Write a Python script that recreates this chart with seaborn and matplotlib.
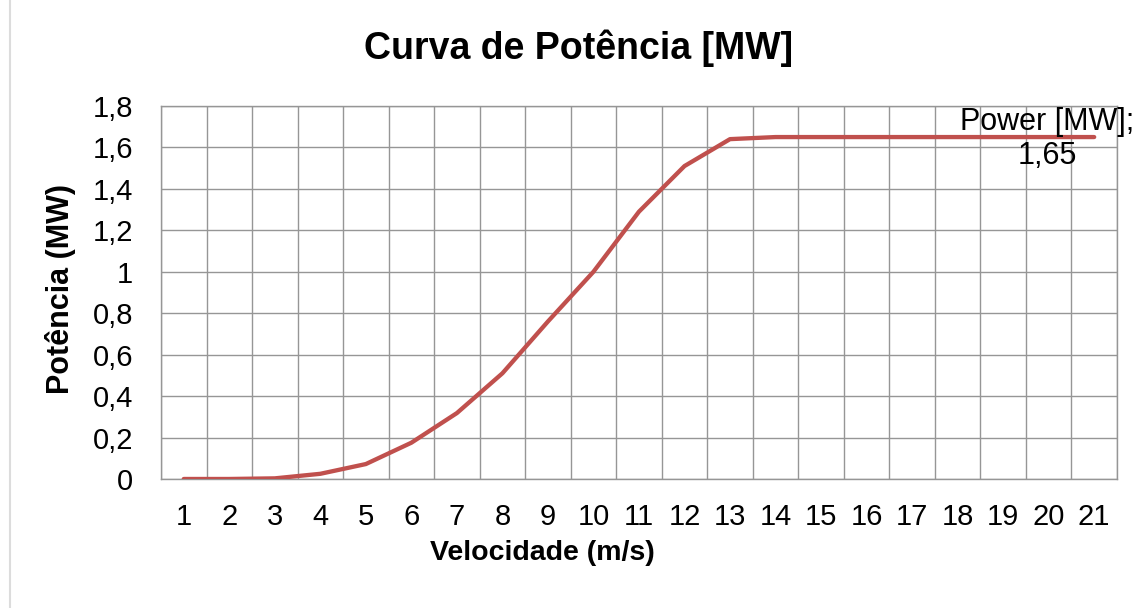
import matplotlib
matplotlib.use('Agg')
import matplotlib.pyplot as plt
import seaborn as sns
import numpy as np
import pandas as pd
from matplotlib.lines import Line2D

sns.set_style('white')
plt.rcParams['font.family'] = ['Liberation Sans', 'DejaVu Sans']
plt.rcParams.update({'text.color': 'black', 'xtick.color': 'black',
                     'ytick.color': 'black'})

# wind speed (m/s) and power curve (MW)
speed = list(range(1, 22))
power = [0, 0, 0.003, 0.025, 0.072, 0.175, 0.318, 0.51, 0.76, 1.0, 1.29,
         1.51, 1.64, 1.65, 1.65, 1.65, 1.65, 1.65, 1.65, 1.65, 1.65]
y_ticks = [0, 0.2, 0.4, 0.6, 0.8, 1.0, 1.2, 1.4, 1.6, 1.8]
y_labels = ['0', '0,2', '0,4', '0,6', '0,8', '1', '1,2', '1,4', '1,6', '1,8']

df = pd.DataFrame({'speed': speed, 'power': power})

fig = plt.figure(figsize=(11.45, 6.08), dpi=100)
ax = fig.add_axes([0.1406, 0.2122, 0.8349, 0.6135])

grid_col = '#969696'
sns.lineplot(data=df, x='speed', y='power', ax=ax, color='#C0504D',
             linewidth=3.1, zorder=3)

ax.set_xlim(0.5, 21.5)
ax.set_ylim(0, 1.8)
ax.set_xticks(speed)
ax.set_xticklabels([str(s) for s in speed], fontsize=21)
ax.set_xticks(np.arange(0.5, 22, 1), minor=True)
ax.set_yticks(y_ticks)
ax.set_yticklabels(y_labels, fontsize=21)
ax.tick_params(axis='x', which='both', length=0, pad=17)
ax.tick_params(axis='y', which='both', length=0, pad=20)
ax.grid(which='minor', axis='x', color=grid_col, linewidth=1.0)
ax.grid(which='major', axis='y', color=grid_col, linewidth=1.0)
ax.grid(which='major', axis='x', visible=False)
for s in ax.spines.values():
    s.set_color(grid_col)
    s.set_linewidth(1.0)
ax.set_xlabel('')
ax.set_ylabel('')

# data label on last point
ax.annotate('Power [MW];\n1,65', xy=(speed[-1], power[-1]),
            xytext=(-47, -2), textcoords='offset pixels',
            ha='center', va='center', multialignment='center', fontsize=22)

fig.text(0.505, 1 - 59 / 608, 'Curva de Potência [MW]', ha='center',
         va='baseline', fontsize=27, fontweight='bold')
fig.text(542 / 1145, 1 - 560 / 608, 'Velocidade (m/s)', ha='center',
         va='baseline', fontsize=20.5, fontweight='bold')
fig.text(61 / 1145, 1 - 289 / 608, 'Potência (MW)', ha='center',
         va='center', rotation=90, fontsize=22, fontweight='bold')

# chart border remnant on the left
fig.add_artist(Line2D([10 / 1145, 10 / 1145], [0, 1], color='#dcdcdc',
                      linewidth=1.5, transform=fig.transFigure))

fig.savefig('out.png', dpi=100)
